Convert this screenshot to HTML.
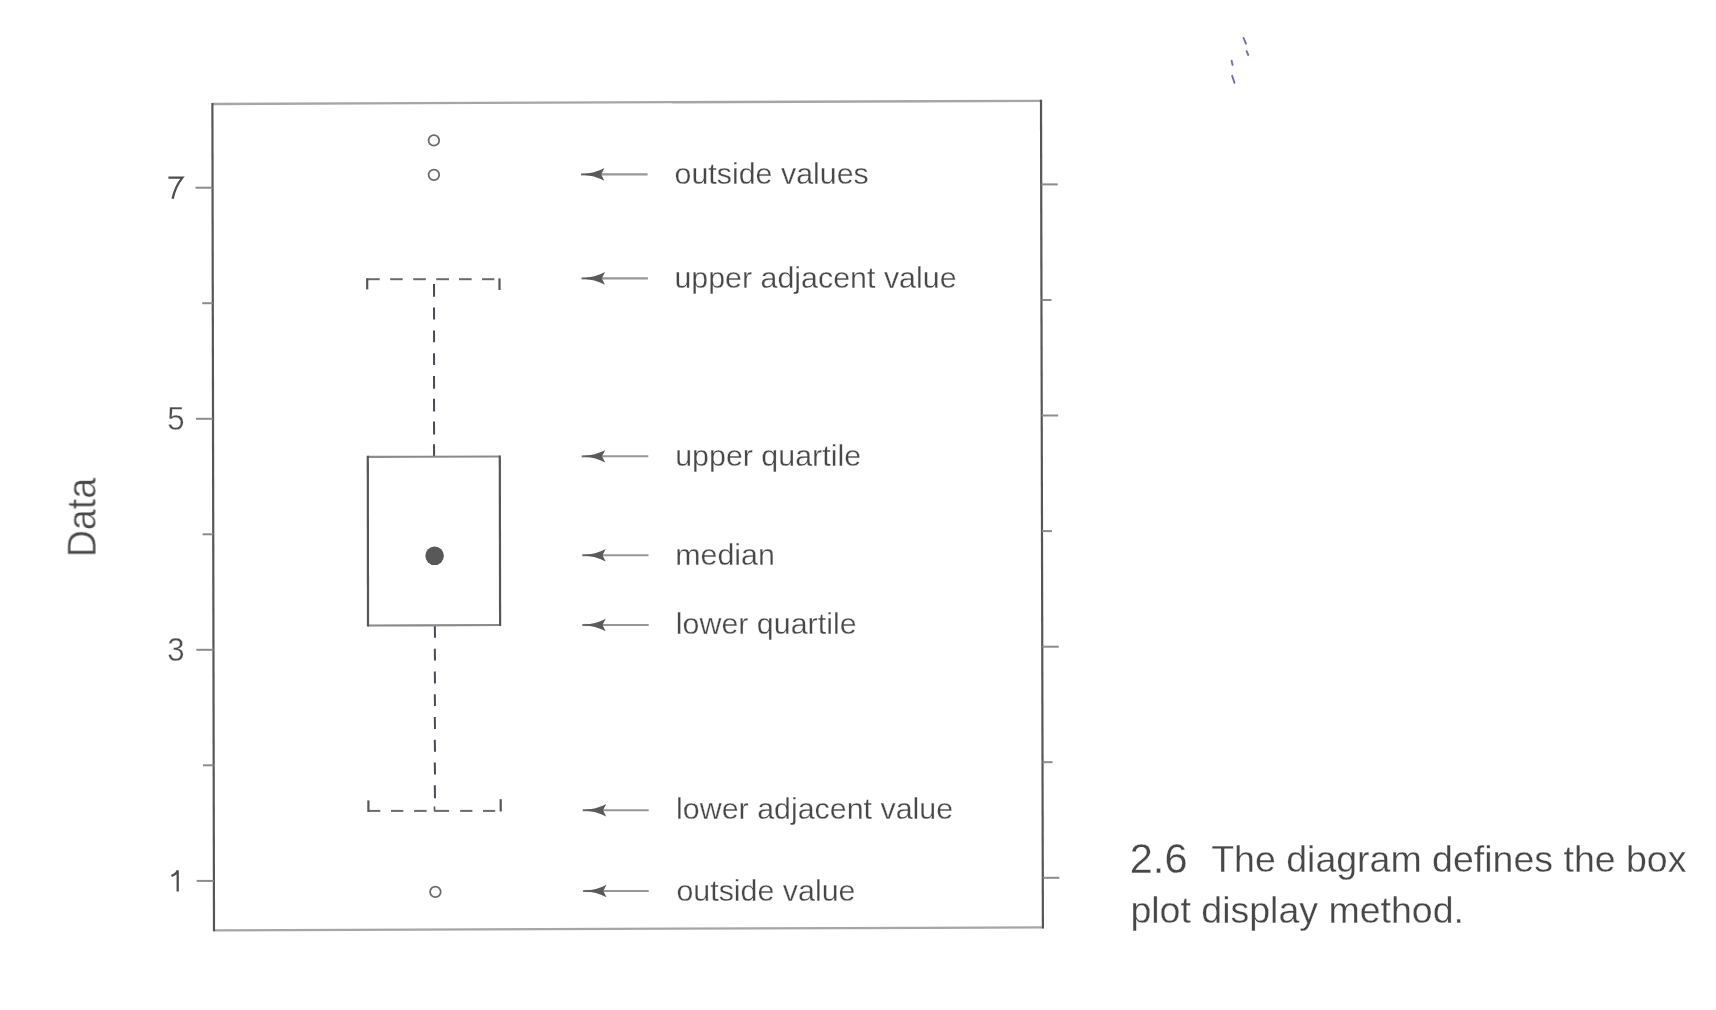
<!DOCTYPE html>
<html><head><meta charset="utf-8"><title>Box plot diagram</title>
<style>
html,body{margin:0;padding:0;background:#fff;width:1716px;height:1010px;overflow:hidden}
svg{display:block;will-change:transform}
text{font-family:"Liberation Sans",sans-serif;fill:#474747}
.lab{font-size:30.4px;stroke:#fff;stroke-width:0.3px}
.num{font-size:32.8px;stroke:#fff;stroke-width:0.35px;fill:#4e4e4e}
.data{font-size:40px;stroke:#fff;stroke-width:0.4px}
.cap{font-size:37.5px;stroke:#fff;stroke-width:0.3px}
</style></head>
<body>
<svg width="1716" height="1010" viewBox="0 0 1716 1010">
<rect x="0" y="0" width="1716" height="1010" fill="#fff"/>
<defs><filter id="soft" x="0" y="0" width="1716" height="1010" filterUnits="userSpaceOnUse"><feGaussianBlur stdDeviation="0.45"/></filter></defs>
<g filter="url(#soft)">
<path d="M212.4,104.0 L1041.0,100.8" stroke="#a6a6a6" stroke-width="2.3" fill="none"/>
<path d="M214.0,930.3 L1042.9,927.4" stroke="#a6a6a6" stroke-width="2.3" fill="none"/>
<path d="M212.4,103.0 L214.0,931.3" stroke="#575757" stroke-width="2.2" fill="none"/>
<path d="M1041.0,99.8 L1042.9,928.4" stroke="#575757" stroke-width="2.2" fill="none"/>
<line x1="195.5" y1="187.7" x2="212.6" y2="187.7" stroke="#8c8c8c" stroke-width="2.0"/>
<line x1="202.2" y1="303.2" x2="212.8" y2="303.2" stroke="#8c8c8c" stroke-width="2.0"/>
<line x1="195.9" y1="418.8" x2="213.0" y2="418.8" stroke="#8c8c8c" stroke-width="2.0"/>
<line x1="202.6" y1="534.3" x2="213.2" y2="534.3" stroke="#8c8c8c" stroke-width="2.0"/>
<line x1="196.3" y1="649.8" x2="213.5" y2="649.8" stroke="#8c8c8c" stroke-width="2.0"/>
<line x1="203.0" y1="765.3" x2="213.7" y2="765.3" stroke="#8c8c8c" stroke-width="2.0"/>
<line x1="196.7" y1="880.9" x2="213.9" y2="880.9" stroke="#8c8c8c" stroke-width="2.0"/>
<line x1="1041.2" y1="184.4" x2="1057.7" y2="184.4" stroke="#8c8c8c" stroke-width="2.0"/>
<line x1="1041.5" y1="300.0" x2="1051.5" y2="300.0" stroke="#8c8c8c" stroke-width="2.0"/>
<line x1="1041.7" y1="415.5" x2="1058.2" y2="415.5" stroke="#8c8c8c" stroke-width="2.0"/>
<line x1="1042.0" y1="531.1" x2="1052.0" y2="531.1" stroke="#8c8c8c" stroke-width="2.0"/>
<line x1="1042.3" y1="646.7" x2="1058.8" y2="646.7" stroke="#8c8c8c" stroke-width="2.0"/>
<line x1="1042.5" y1="762.2" x2="1052.5" y2="762.2" stroke="#8c8c8c" stroke-width="2.0"/>
<line x1="1042.8" y1="877.8" x2="1059.3" y2="877.8" stroke="#8c8c8c" stroke-width="2.0"/>
<line x1="367.2" y1="279.2" x2="379.7" y2="279.2" stroke="#6a6a6a" stroke-width="2.0"/>
<line x1="390.2" y1="279.2" x2="402.7" y2="279.2" stroke="#6a6a6a" stroke-width="2.0"/>
<line x1="413.2" y1="279.2" x2="425.8" y2="279.2" stroke="#6a6a6a" stroke-width="2.0"/>
<line x1="436.2" y1="279.2" x2="449.0" y2="279.2" stroke="#6a6a6a" stroke-width="2.0"/>
<line x1="459.0" y1="279.2" x2="471.6" y2="279.2" stroke="#6a6a6a" stroke-width="2.0"/>
<line x1="482.0" y1="279.2" x2="494.3" y2="279.2" stroke="#6a6a6a" stroke-width="2.0"/>
<line x1="367.2" y1="278.2" x2="367.2" y2="289.4" stroke="#575757" stroke-width="2.2"/>
<line x1="499.5" y1="278.4" x2="499.5" y2="290.0" stroke="#575757" stroke-width="2.2"/>
<line x1="368.4" y1="810.9" x2="380.3" y2="810.9" stroke="#6a6a6a" stroke-width="2.0"/>
<line x1="391.0" y1="810.9" x2="403.3" y2="810.9" stroke="#6a6a6a" stroke-width="2.0"/>
<line x1="414.1" y1="810.9" x2="426.6" y2="810.9" stroke="#6a6a6a" stroke-width="2.0"/>
<line x1="434.2" y1="810.9" x2="449.1" y2="810.9" stroke="#6a6a6a" stroke-width="2.0"/>
<line x1="460.2" y1="810.9" x2="472.4" y2="810.9" stroke="#6a6a6a" stroke-width="2.0"/>
<line x1="483.0" y1="810.9" x2="495.2" y2="810.9" stroke="#6a6a6a" stroke-width="2.0"/>
<line x1="368.4" y1="800.4" x2="368.4" y2="811.9" stroke="#575757" stroke-width="2.2"/>
<line x1="500.7" y1="799.2" x2="500.7" y2="811.5" stroke="#575757" stroke-width="2.2"/>
<line x1="434.5" y1="806.5" x2="434.5" y2="810.9" stroke="#575757" stroke-width="1.6"/>
<line x1="434.0" y1="283.9" x2="434.1" y2="296.7" stroke="#4a4a52" stroke-width="2.0"/>
<line x1="434.0" y1="307.6" x2="434.1" y2="319.5" stroke="#4a4a52" stroke-width="2.0"/>
<line x1="434.0" y1="330.4" x2="434.1" y2="342.3" stroke="#4a4a52" stroke-width="2.0"/>
<line x1="434.0" y1="353.2" x2="434.1" y2="365.0" stroke="#4a4a52" stroke-width="2.0"/>
<line x1="434.0" y1="376.0" x2="434.1" y2="388.8" stroke="#4a4a52" stroke-width="2.0"/>
<line x1="434.0" y1="398.7" x2="434.1" y2="411.6" stroke="#4a4a52" stroke-width="2.0"/>
<line x1="434.0" y1="421.5" x2="434.1" y2="434.4" stroke="#4a4a52" stroke-width="2.0"/>
<line x1="434.0" y1="444.3" x2="434.1" y2="456.9" stroke="#4a4a52" stroke-width="2.0"/>
<line x1="434.8" y1="625.5" x2="435.0" y2="637.8" stroke="#4a4a52" stroke-width="2.0"/>
<line x1="434.8" y1="648.7" x2="435.0" y2="660.6" stroke="#4a4a52" stroke-width="2.0"/>
<line x1="434.8" y1="671.5" x2="435.0" y2="683.4" stroke="#4a4a52" stroke-width="2.0"/>
<line x1="434.8" y1="694.3" x2="435.0" y2="706.1" stroke="#4a4a52" stroke-width="2.0"/>
<line x1="434.8" y1="717.0" x2="435.0" y2="729.0" stroke="#4a4a52" stroke-width="2.0"/>
<line x1="434.8" y1="739.8" x2="435.0" y2="751.7" stroke="#4a4a52" stroke-width="2.0"/>
<line x1="434.8" y1="762.6" x2="435.0" y2="774.5" stroke="#4a4a52" stroke-width="2.0"/>
<line x1="434.8" y1="785.3" x2="435.0" y2="798.2" stroke="#4a4a52" stroke-width="2.0"/>
<line x1="367.8" y1="456.9" x2="499.8" y2="456.5" stroke="#8a8a8a" stroke-width="2.2"/>
<line x1="368.0" y1="625.5" x2="500.1" y2="625.0" stroke="#8a8a8a" stroke-width="2.2"/>
<line x1="367.8" y1="455.8" x2="368.0" y2="626.5" stroke="#575757" stroke-width="2.2"/>
<line x1="499.8" y1="455.5" x2="500.1" y2="626.0" stroke="#575757" stroke-width="2.2"/>
<circle cx="434.6" cy="555.8" r="9.3" fill="#585858"/>
<circle cx="433.9" cy="140.4" r="5.3" fill="none" stroke="#6a6a6a" stroke-width="1.75"/>
<circle cx="433.9" cy="174.8" r="5.3" fill="none" stroke="#6a6a6a" stroke-width="1.75"/>
<circle cx="435.4" cy="891.8" r="5.3" fill="none" stroke="#6a6a6a" stroke-width="1.75"/>
<line x1="587.2" y1="174.4" x2="647.6" y2="174.4" stroke="#979797" stroke-width="2.1"/>
<line x1="581.0" y1="174.4" x2="588.2" y2="174.4" stroke="#7a7a7a" stroke-width="2.1"/>
<path d="M580.2,174.4 Q595.2,173.4 604.4000000000001,168.1 L601.2,174.4 L604.4000000000001,180.7 Q595.2,175.4 580.2,174.4 Z" fill="#5a5a5a"/>
<line x1="587.8" y1="278.4" x2="647.9" y2="278.4" stroke="#979797" stroke-width="2.1"/>
<line x1="581.5999999999999" y1="278.4" x2="588.8" y2="278.4" stroke="#7a7a7a" stroke-width="2.1"/>
<path d="M580.8,278.4 Q595.8,277.4 605.0,272.1 L601.8,278.4 L605.0,284.7 Q595.8,279.4 580.8,278.4 Z" fill="#5a5a5a"/>
<line x1="588.0" y1="456.3" x2="648.3" y2="456.3" stroke="#979797" stroke-width="2.1"/>
<line x1="581.8" y1="456.3" x2="589.0" y2="456.3" stroke="#7a7a7a" stroke-width="2.1"/>
<path d="M581.0,456.3 Q596.0,455.3 605.2,450.0 L602.0,456.3 L605.2,462.6 Q596.0,457.3 581.0,456.3 Z" fill="#5a5a5a"/>
<line x1="588.5" y1="555.2" x2="648.5" y2="555.2" stroke="#979797" stroke-width="2.1"/>
<line x1="582.3" y1="555.2" x2="589.5" y2="555.2" stroke="#7a7a7a" stroke-width="2.1"/>
<path d="M581.5,555.2 Q596.5,554.2 605.7,548.9 L602.5,555.2 L605.7,561.5 Q596.5,556.2 581.5,555.2 Z" fill="#5a5a5a"/>
<line x1="588.5" y1="625.0" x2="648.7" y2="625.0" stroke="#979797" stroke-width="2.1"/>
<line x1="582.3" y1="625.0" x2="589.5" y2="625.0" stroke="#7a7a7a" stroke-width="2.1"/>
<path d="M581.5,625.0 Q596.5,624.0 605.7,618.7 L602.5,625.0 L605.7,631.3 Q596.5,626.0 581.5,625.0 Z" fill="#5a5a5a"/>
<line x1="589.0" y1="810.2" x2="648.7" y2="810.2" stroke="#979797" stroke-width="2.1"/>
<line x1="582.8" y1="810.2" x2="590.0" y2="810.2" stroke="#7a7a7a" stroke-width="2.1"/>
<path d="M582.0,810.2 Q597.0,809.2 606.2,803.9 L603.0,810.2 L606.2,816.5 Q597.0,811.2 582.0,810.2 Z" fill="#5a5a5a"/>
<line x1="589.3" y1="891.0" x2="648.7" y2="891.0" stroke="#979797" stroke-width="2.1"/>
<line x1="583.0999999999999" y1="891.0" x2="590.3" y2="891.0" stroke="#7a7a7a" stroke-width="2.1"/>
<path d="M582.3,891.0 Q597.3,890.0 606.5,884.7 L603.3,891.0 L606.5,897.3 Q597.3,892.0 582.3,891.0 Z" fill="#5a5a5a"/>
<text x="674.5" y="184.4" class="lab">outside values</text>
<text x="674.4" y="287.9" class="lab">upper adjacent value</text>
<text x="675.2" y="465.8" class="lab">upper quartile</text>
<text x="675.2" y="565.1" class="lab">median</text>
<text x="675.8" y="634.4" class="lab">lower quartile</text>
<text x="676.1" y="819.3" class="lab">lower adjacent value</text>
<text x="676.4" y="900.7" class="lab">outside value</text>
<path d="M168.4,177.6 L182.4,177.6 Q175.2,186.5 172.6,198.8" fill="none" stroke="#4e4e4e" stroke-width="2.3"/>
<path d="M171.4,875.8 Q176.0,874.6 177.7,870.4 L177.7,891.6" fill="none" stroke="#4e4e4e" stroke-width="2.3"/>
<text transform="translate(184.5,429.7) scale(0.95,1)" class="num" text-anchor="end">5</text>
<text transform="translate(184.5,660.7) scale(0.95,1)" class="num" text-anchor="end">3</text>
<text transform="translate(95.7,557.2) rotate(-90) scale(0.94,1)" class="data">Data</text>
<text transform="translate(1129.8,872.6) scale(1,1.03)" class="cap" style="font-size:41.5px">2.6</text>
<text x="1211.2" y="872.3" class="cap">The diagram defines the box</text>
<text x="1130.4" y="922.6" class="cap">plot display method.</text>
<line x1="1243.6" y1="38.0" x2="1245.9" y2="43.6" stroke="#6d6db4" stroke-width="1.9" stroke-linecap="round"/>
<line x1="1246.6" y1="51.2" x2="1248.3" y2="55.0" stroke="#6d6db4" stroke-width="1.9" stroke-linecap="round"/>
<line x1="1231.6" y1="60.8" x2="1232.6" y2="64.9" stroke="#6d6db4" stroke-width="1.9" stroke-linecap="round"/>
<line x1="1232.1" y1="75.8" x2="1234.5" y2="82.8" stroke="#6d6db4" stroke-width="1.9" stroke-linecap="round"/>
</g>
</svg>
</body></html>
